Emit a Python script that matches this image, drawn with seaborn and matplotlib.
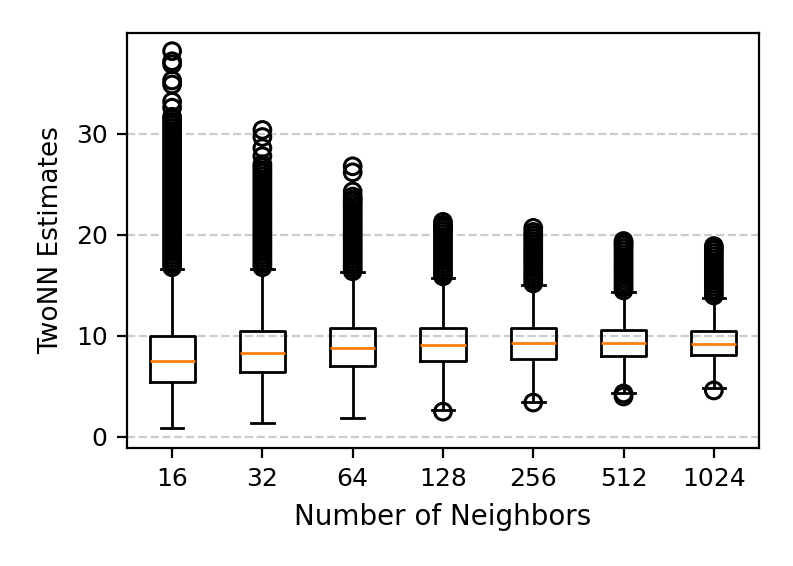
import pandas as pd
import matplotlib
matplotlib.use("Agg")
import matplotlib.pyplot as plt
import seaborn as sns

# neighbor counts on the x axis
neighbors = ['16', '32', '64', '128', '256', '512', '1024']

# box summary
whis_lo = [0.9, 1.4, 1.9, 2.65, 3.5, 4.35, 4.8]
q1 = [5.4, 6.4, 7.0, 7.5, 7.7, 8.0, 8.1]
median = [7.5, 8.35, 8.8, 9.1, 9.25, 9.25, 9.2]
q3 = [10.0, 10.5, 10.75, 10.8, 10.75, 10.6, 10.45]
whis_hi = [16.6, 16.6, 16.3, 15.7, 15.05, 14.3, 13.8]

# outliers (the dense columns are stacked circles)
fliers = {
    '16': [16.8, 17.1, 17.4, 17.7, 18.0, 18.3, 18.6, 18.9, 19.2, 19.5, 19.8,
           20.1, 20.4, 20.7, 21.0, 21.3, 21.6, 21.9, 22.2, 22.5, 22.8, 23.1,
           23.4, 23.7, 24.0, 24.3, 24.6, 24.9, 25.2, 25.5, 25.8, 26.1, 26.4,
           26.7, 27.0, 27.3, 27.6, 27.9, 28.2, 28.5, 28.8, 29.1, 29.4, 29.7,
           30.0, 30.3, 30.6, 30.9, 31.2, 31.5, 31.7,
           32.6, 33.2, 34.9, 35.3, 36.9, 37.2, 38.2],
    '32': [16.8, 17.1, 17.4, 17.7, 18.0, 18.3, 18.6, 18.9, 19.2, 19.5, 19.8,
           20.1, 20.4, 20.7, 21.0, 21.3, 21.6, 21.9, 22.2, 22.5, 22.8, 23.1,
           23.4, 23.7, 24.0, 24.3, 24.6, 24.9, 25.2, 25.5, 25.8, 26.1, 26.4,
           26.7, 27.0, 27.8, 28.6, 29.7, 30.4],
    '64': [16.4, 16.7, 17.0, 17.3, 17.6, 17.9, 18.2, 18.5, 18.8, 19.1, 19.4,
           19.7, 20.0, 20.3, 20.6, 20.9, 21.2, 21.5, 21.8, 22.1, 22.4, 22.7,
           23.0, 23.3, 23.5, 23.8, 24.3, 26.2, 26.8],
    '128': [2.5, 15.9, 16.2, 16.5, 16.8, 17.1, 17.4, 17.7, 18.0, 18.3, 18.6,
            18.9, 19.2, 19.5, 19.8, 20.1, 20.4, 20.7, 20.8, 21.0, 21.3],
    '256': [3.4, 15.2, 15.5, 15.8, 16.1, 16.4, 16.7, 17.0, 17.3, 17.6, 17.9,
            18.2, 18.5, 18.8, 19.1, 19.4, 19.7, 20.0, 20.3, 20.7],
    '512': [4.0, 4.3, 14.5, 14.8, 15.1, 15.4, 15.7, 16.0, 16.3, 16.6, 16.9,
            17.2, 17.5, 17.8, 18.1, 18.4, 18.7, 19.0, 19.2, 19.4],
    '1024': [4.6, 14.0, 14.3, 14.6, 14.9, 15.2, 15.5, 15.8, 16.1, 16.4, 16.7,
             17.0, 17.3, 17.6, 17.9, 18.2, 18.5, 18.7, 18.9],
}

# long tables for seaborn
rows = []
for i, k in enumerate(neighbors):
    for v in (whis_lo[i], q1[i], median[i], q3[i], whis_hi[i]):
        rows.append({'k': k, 'v': v})
box_df = pd.DataFrame(rows)

flier_rows = []
for i, k in enumerate(neighbors):
    for v in fliers[k]:
        flier_rows.append({'pos': i, 'v': v})
flier_df = pd.DataFrame(flier_rows)

fig = plt.figure(figsize=(3.965, 2.83), dpi=200)
ax = fig.add_axes([0.1601, 0.2085, 0.797, 0.7332])

sns.boxplot(data=box_df, x='k', y='v', order=neighbors, whis=(0, 100),
            width=0.5, fill=False, color='black', linewidth=1,
            showfliers=False, medianprops={'color': '#ff7f0e'}, ax=ax)
sns.scatterplot(data=flier_df, x='pos', y='v', marker='o', s=36,
                facecolor='none', edgecolor='black', linewidth=1.1, ax=ax)

ax.set_xlim(-0.5, 6.5)
ax.set_ylim(-1.1, 40.0)
ax.set_xticks(range(len(neighbors)))
ax.set_xticklabels(neighbors)
ax.set_yticks([0, 10, 20, 30])
ax.tick_params(labelsize=9)
ax.yaxis.grid(True, linestyle='--', color='gray', alpha=0.4, linewidth=0.8)
ax.set_axisbelow(True)
ax.set_xlabel('Number of Neighbors', fontsize=10)
ax.set_ylabel('TwoNN Estimates', fontsize=9.5)

fig.savefig('out.png', dpi=200)
